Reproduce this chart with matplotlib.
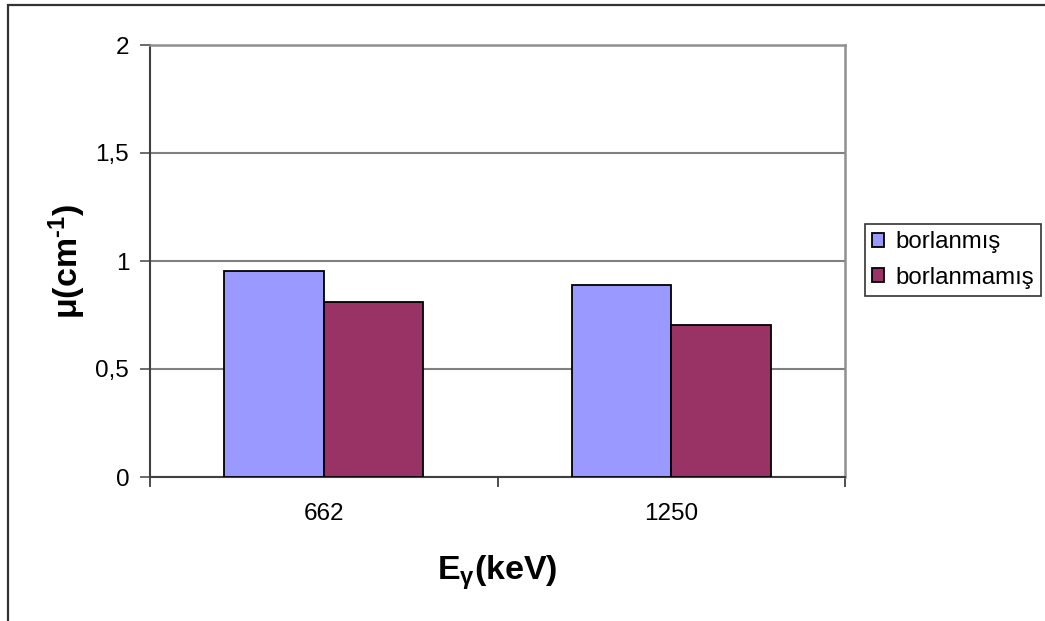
import numpy as np
import matplotlib.pyplot as plt
from matplotlib.patches import Rectangle

plt.rcParams['font.family'] = ['Liberation Sans', 'DejaVu Sans']
plt.rcParams['mathtext.fontset'] = 'custom'
plt.rcParams['mathtext.rm'] = 'Liberation Sans'
plt.rcParams['mathtext.it'] = 'Liberation Sans:italic'
plt.rcParams['mathtext.bf'] = 'Liberation Sans:bold'

# gamma energies and attenuation coefficients
energies = ['662', '1250']
series_names = ['borlanmış', 'borlanmamış']
mu_borlu = [0.953, 0.888]
mu_borsuz = [0.811, 0.703]
y_ticks = [0, 0.5, 1, 1.5, 2]
y_labels = ['0', '0,5', '1', '1,5', '2']

W, H = 1045, 621
fig = plt.figure(figsize=(W / 100, H / 100), dpi=100)

# outer chart border (only top and left edges show)
fig.patches.append(Rectangle((8 / W, -0.05), 1.1, (H - 5) / H + 0.05,
                             transform=fig.transFigure, fill=False,
                             edgecolor='#333333', lw=1.6))

ax = fig.add_axes([150 / W, (H - 477) / H, 695 / W, 432 / H])

x = np.arange(len(energies))
bw = 1 / 3.5
b1 = ax.bar(x - bw / 2, mu_borlu, bw, color='#9999FF', edgecolor='black',
            lw=1.3, label=series_names[0], zorder=3)
b2 = ax.bar(x + bw / 2, mu_borsuz, bw, color='#993366', edgecolor='black',
            lw=1.3, label=series_names[1], zorder=3)

ax.set_xlim(-0.5, len(energies) - 0.5)
ax.set_ylim(0, 2)
ax.set_yticks(y_ticks)
ax.set_yticklabels(y_labels)
ax.yaxis.grid(True, color='#808080', lw=1.5, zorder=0)

# category labels sit between the boundary ticks
ax.set_xticks(x)
ax.set_xticklabels(energies)
ax.set_xticks(np.arange(-0.5, len(energies)), minor=True)
ax.tick_params(axis='x', which='major', length=0, pad=19, labelsize=17.5)
ax.tick_params(axis='x', which='minor', length=7, width=1.3, color='#404040', direction='out')
ax.tick_params(axis='y', length=7, width=1.3, color='#606060', direction='out',
               labelsize=17.5, pad=8)

for s in ['left', 'bottom']:
    ax.spines[s].set_color('#404040')
    ax.spines[s].set_linewidth(1.5)
for s in ['top', 'right']:
    ax.spines[s].set_color('#909090')
    ax.spines[s].set_linewidth(1.8)

ax.set_xlabel(r'$\mathbf{E_{γ}(keV)}$', fontsize=24.5, labelpad=20)
ax.set_ylabel(r'$\mathbf{μ(cm^{‐1})}$', fontsize=24.5, labelpad=5)

leg = fig.legend(handles=[b1, b2], loc='center left',
                 bbox_to_anchor=(865 / W, (H - 260) / H), borderaxespad=0,
                 fontsize=17.3, frameon=True, fancybox=False, edgecolor='black',
                 handlelength=0.5, handleheight=0.5, handletextpad=0.45,
                 labelspacing=0.55, borderpad=0.3)
leg.get_frame().set_linewidth(1.2)

fig.savefig('out.png', dpi=100)
